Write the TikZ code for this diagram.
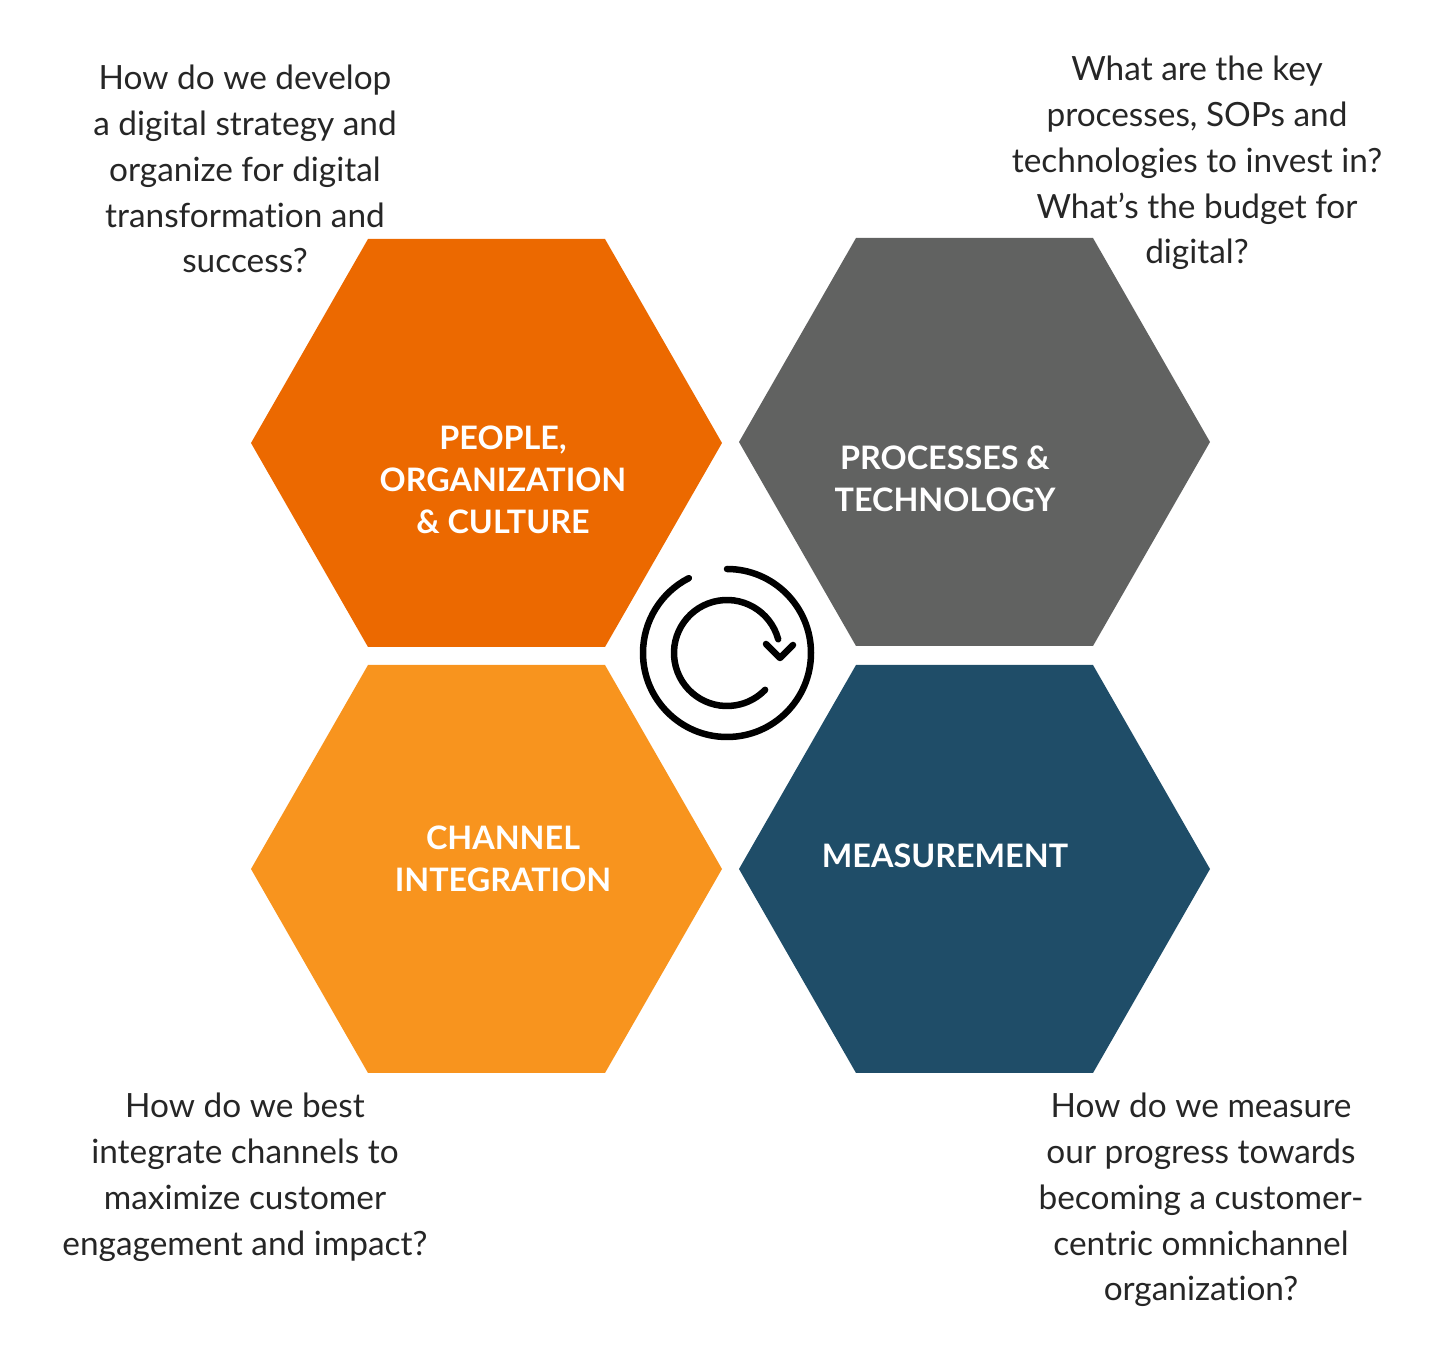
\documentclass[tikz,border=0pt]{standalone}
\usepackage{fontspec}
\setmainfont[Ligatures=CommonOff]{Lato}
\definecolor{hexorange}{RGB}{236, 105, 0}
\definecolor{hexgrey}{RGB}{97, 98, 97}
\definecolor{hexamber}{RGB}{248, 148, 30}
\definecolor{hexblue}{RGB}{31, 77, 104}
% 1 px of the reference = 0.01 cm, y upwards from the bottom edge
\tikzset{
  hexlabel/.style={font=\fontsize{9.2}{11.95}\selectfont\bfseries, text=white, align=center},
  question/.style={font=\fontsize{9.5}{13.05}\selectfont, text=black!85, align=center},
  cycleline/.style={line width=1.85pt, line cap=round, line join=round},
}
\newcommand{\hexagon}[2]{%
  \fill[#2] (#1) ++(-2.35, 0) -- ++(1.17, 2.04) -- ++(2.37, 0) -- ++(1.17, -2.04)
    -- ++(-1.17, -2.04) -- ++(-2.37, 0) -- cycle;
}
\begin{document}
\begin{tikzpicture}[x=1cm, y=1cm]
\useasboundingbox (0, 0) rectangle (14.51, 13.50);

% ---- hexagons ----
\coordinate (people) at (4.86, 9.07);
\coordinate (process) at (9.74, 9.08);
\coordinate (channel) at (4.86, 4.81);
\coordinate (measure) at (9.74, 4.81);
\hexagon{people}{hexorange}
\hexagon{process}{hexgrey}
\hexagon{channel}{hexamber}
\hexagon{measure}{hexblue}

% ---- hexagon labels ----
\node[hexlabel] (peoplelabel) at (5.03, 8.70) {PEOPLE,\\ORGANIZATION\\\& CULTURE};
\node[hexlabel] (processlabel) at (9.45, 8.71) {PROCESSES \&\\TECHNOLOGY};
\node[hexlabel] (channellabel) at (5.03, 4.91) {CHANNEL\\INTEGRATION};
\node[hexlabel] (measurelabel) at (9.45, 4.94) {MEASUREMENT};

% ---- questions ----
\node[question] (peopleq) at (2.45, 11.81) {How do we develop\\a digital strategy and\\organize for digital\\transformation and\\success?};
\node[question] (processq) at (11.97, 11.87) {What are the key\\processes, SOPs and\\technologies to invest in?\\What’s the budget for\\digital?};
\node[question] (channelq) at (2.45, 1.73) {How do we best\\integrate channels to\\maximize customer\\engagement and impact?};
\node[question] (measureq) at (12.01, 1.50) {How do we measure\\our progress towards\\becoming a customer-\\centric omnichannel\\organization?};

% ---- cycle icon ----
\coordinate (cycle) at (7.27, 6.97);
\draw[cycleline] (cycle) ++(90:0.84) arc[start angle=90, end angle=-243, radius=0.84];
\draw[cycleline] (cycle) ++(15:0.53) arc[start angle=15, end angle=316, radius=0.53];
\draw[cycleline] (7.66, 7.06) -- (7.80, 6.92) -- (7.93, 7.05);
\end{tikzpicture}
\end{document}
